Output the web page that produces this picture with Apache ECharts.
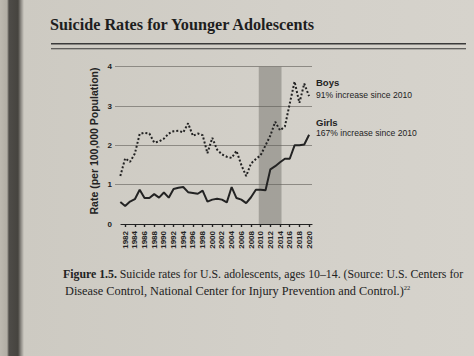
<!DOCTYPE html>
<html>
<head>
<meta charset="utf-8">
<script src="https://cdn.jsdelivr.net/npm/echarts@6/dist/echarts.min.js"></script>
<style>
html,body{margin:0;padding:0;}
body{width:474px;height:356px;overflow:hidden;
background:linear-gradient(to right,#bdb9b0 0px,#b2aea5 7px,#4e4c48 9px,#46443f 18px,#8f8c86 21px,#cdcac2 24px,#d3d0c9 60%,#d6d3cc 100%);}
#chart{width:474px;height:356px;}
</style>
</head>
<body>
<div id="chart"></div>
<script>
// ---- data ----
const years = [1981,1982,1983,1984,1985,1986,1987,1988,1989,1990,
               1991,1992,1993,1994,1995,1996,1997,1998,1999,2000,
               2001,2002,2003,2004,2005,2006,2007,2008,2009,2010,
               2011,2012,2013,2014,2015,2016,2017,2018,2019,2020];
const boys  = [1.22,1.67,1.58,1.79,2.29,2.32,2.30,2.07,2.10,2.17,
               2.30,2.36,2.37,2.33,2.56,2.24,2.30,2.26,1.80,2.19,
               1.89,1.77,1.71,1.68,1.86,1.50,1.22,1.54,1.65,1.75,
               2.00,2.25,2.60,2.38,2.48,3.06,3.62,3.08,3.57,3.25];
const girls = [0.56,0.46,0.57,0.63,0.87,0.66,0.66,0.76,0.67,0.80,
               0.67,0.89,0.92,0.94,0.81,0.79,0.77,0.85,0.57,0.62,
               0.64,0.62,0.55,0.94,0.66,0.62,0.53,0.68,0.87,0.87,
               0.86,1.39,1.47,1.57,1.66,1.66,2.00,2.00,2.02,2.27];
const tickYears = [1982,1984,1986,1988,1990,1992,1994,1996,1998,2000,
                   2002,2004,2006,2008,2010,2012,2014,2016,2018,2020];
const yTicks = [0,1,2,3,4];
const shadeBand = [2009.6, 2014.3];
const titleText = 'Suicide Rates for Younger Adolescents';
const yAxisTitle = 'Rate (per 100,000 Population)';
const boysLabel = 'Boys', boysNote = '91% increase since 2010';
const girlsLabel = 'Girls', girlsNote = '167% increase since 2010';
const caption1 = 'Suicide rates for U.S. adolescents, ages 10\u201314. (Source: U.S. Centers for';
const caption2 = 'Disease Control, National Center for Injury Prevention and Control.)';

const ink = '#232323';
const sans = 'Liberation Sans';
const serif = 'Liberation Serif';

const chart = echarts.init(document.getElementById('chart'), null, {renderer:'svg'});
const axisCommon = {type:'value', splitLine:{show:false}};
chart.setOption({
  backgroundColor:'transparent',
  animation:false,
  grid:[
    {left:115, right:162, top:66.7, bottom:132},
    {left:121, right:162, top:66.7, bottom:132}
  ],
  xAxis:[
    Object.assign({}, axisCommon, {gridIndex:0, min:1979.9, max:2020.6, show:false}),
    Object.assign({}, axisCommon, {gridIndex:1, min:1981.14, max:2020.6,
      axisLine:{show:true, onZero:false, lineStyle:{color:ink, width:1.2}},
      axisTick:{show:true, customValues:tickYears, length:3, lineStyle:{color:ink, width:1.2}},
      axisLabel:{show:true, customValues:tickYears, rotate:90, margin:7,
        formatter:(v)=>String(v),
        fontFamily:sans, fontWeight:'bold', fontSize:8, color:ink}}),
    Object.assign({}, axisCommon, {gridIndex:1, min:1981.14, max:2020.6,
      axisLine:{show:false},
      axisTick:{show:true, inside:true, customValues:tickYears, length:3, lineStyle:{color:ink, width:1.2}},
      axisLabel:{show:false}})
  ],
  yAxis:[
    {type:'value', gridIndex:0, min:0, max:4, interval:1,
      axisLine:{show:false}, axisTick:{show:false},
      splitLine:{show:true, showMinLine:false, lineStyle:{color:'#8d8a84', width:1.2}},
      axisLabel:{margin:3, fontFamily:sans, fontWeight:'bold', fontSize:8, color:ink,
        customValues:yTicks, formatter:(v)=>String(v)}},
    {type:'value', gridIndex:1, min:0, max:4, show:false}
  ],
  series:[
    {name:'Girls', type:'line', xAxisIndex:0, yAxisIndex:0, symbol:'none',
      data: years.map((y,i)=>[y, girls[i]]),
      lineStyle:{color:ink, width:2}, z:3,
      markArea:{silent:true, itemStyle:{color:'rgba(92,89,84,0.40)'},
        data:[[{xAxis:shadeBand[0]},{xAxis:shadeBand[1]}]]}},
    {name:'Boys', type:'line', xAxisIndex:0, yAxisIndex:0, symbol:'none',
      data: years.map((y,i)=>[y, boys[i]]),
      lineStyle:{color:ink, width:2, type:'dotted'}, z:3}
  ],
  graphic:[
    {type:'text', left:50, top:16.5, style:{text:titleText, font:'bold 16.2px "'+serif+'"', fill:'#1e1e1e'}},
    {type:'line', shape:{x1:51,y1:43.8,x2:466,y2:43.8}, style:{stroke:'#3a3a3a', lineWidth:1.4}},
    {type:'line', shape:{x1:51,y1:48.8,x2:466,y2:48.8}, style:{stroke:'#3a3a3a', lineWidth:1.1}},
    {type:'text', x:94, y:141, rotation:Math.PI/2,
      style:{text:yAxisTitle, font:'bold 10.5px "'+sans+'"', fill:ink, align:'center', verticalAlign:'middle'}},
    {type:'text', x:316, y:82, style:{text:boysLabel, font:'bold 9.5px "'+sans+'"', fill:ink, verticalAlign:'middle'}},
    {type:'text', x:316, y:94.5, style:{text:boysNote, font:'8.6px "'+sans+'"', fill:ink, verticalAlign:'middle'}},
    {type:'text', x:316, y:122, style:{text:girlsLabel, font:'bold 9.5px "'+sans+'"', fill:ink, verticalAlign:'middle'}},
    {type:'text', x:316, y:133, style:{text:girlsNote, font:'8.6px "'+sans+'"', fill:ink, verticalAlign:'middle'}},
    {type:'text', x:63, y:273.5, style:{
      text:'{b|Figure 1.5.} '+caption1, verticalAlign:'middle', fill:'#222',
      font:'11.8px "'+serif+'"',
      rich:{b:{fontWeight:'bold', fontFamily:serif, fontSize:11.8, fill:'#222'}}}},
    {type:'text', x:65, y:290.5, style:{
      text:caption2+'{s|22}', verticalAlign:'middle', fill:'#222',
      font:'12.3px "'+serif+'"',
      rich:{s:{fontFamily:serif, fontSize:6.5, fill:'#222', verticalAlign:'top', padding:[0,0,6,0]}}}}
  ]
});
</script>
</body>
</html>
